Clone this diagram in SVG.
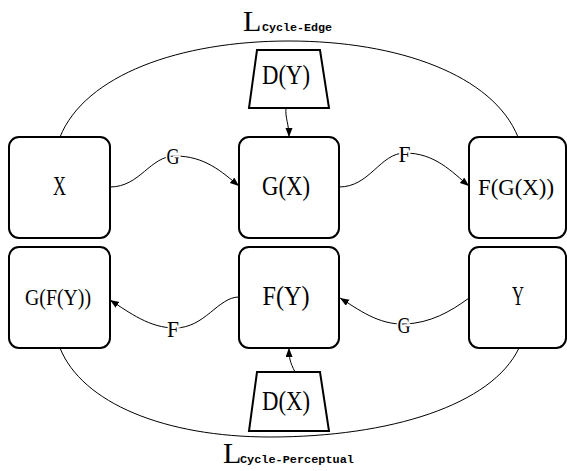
<svg xmlns="http://www.w3.org/2000/svg" width="567" height="471" viewBox="0 0 567 471">
  <style>
    .box { fill: #ffffff; stroke: #000000; stroke-width: 2; }
    .disc { fill: #ffffff; stroke: #000000; stroke-width: 2; stroke-linejoin: miter; }
    .lbl { font-family: "Liberation Serif", "DejaVu Serif", serif; fill: #000000; text-anchor: middle; }
    .big { font-size: 28px; }
    .small { font-size: 23px; }
    .edge { fill: none; stroke: #000000; stroke-width: 1; }
    .elbl { font-family: "Liberation Serif", "DejaVu Serif", serif; font-size: 24px; text-anchor: middle; fill: #000000; stroke: #ffffff; stroke-width: 4; paint-order: stroke; }
    .lossL { font-family: "Liberation Serif", "DejaVu Serif", serif; font-size: 30px; fill: #000000; }
    .lossSub { font-family: "Liberation Mono", "DejaVu Sans Mono", monospace; font-size: 11.7px; font-weight: bold; fill: #000000; }
  </style>
  <defs>
    <marker id="arrow" markerUnits="userSpaceOnUse" markerWidth="10" markerHeight="8" refX="9" refY="3.5" orient="auto">
      <path d="M0,0 L9,3.5 L0,7 z" fill="#000000"/>
    </marker>
  </defs>

  <rect width="567" height="471" fill="#ffffff"/>

  <!-- connectors -->
  <g id="connectors">
    <!-- cycle loss arcs -->
    <path class="edge" d="M60,137 C85,75 180,41 289,41 C398,41 493,75 518,137"/>
    <path class="edge" d="M60,348 C82,403 165,437 270,437 C390,437 492,405 519,348"/>
    <!-- top row -->
    <path class="edge" marker-end="url(#arrow)" d="M110,187 C140,187 150,156 175,156 C205,156 222,172 239,186"/>
    <path class="edge" marker-end="url(#arrow)" d="M339,187 C370,187 380,153 405,153 C435,153 452,172 469,186"/>
    <!-- bottom row -->
    <path class="edge" marker-end="url(#arrow)" d="M469,298 C450,312 430,323 405,324 C378,325 358,309 340,298"/>
    <path class="edge" marker-end="url(#arrow)" d="M239,297 C218,297 205,328 175,328 C150,328 130,313 110,300"/>
    <!-- discriminators -->
    <path class="edge" marker-end="url(#arrow)" d="M286,108 C285,118 289,124 289,137"/>
    <path class="edge" marker-end="url(#arrow)" d="M295,372 C290,362 289,358 289,348"/>
    <!-- edge labels -->
    <text class="elbl" x="173" y="164" textLength="13" lengthAdjust="spacingAndGlyphs">G</text>
    <text class="elbl" x="404.5" y="162" textLength="12" lengthAdjust="spacingAndGlyphs">F</text>
    <text class="elbl" x="404" y="333" textLength="13" lengthAdjust="spacingAndGlyphs">G</text>
    <text class="elbl" x="173" y="337" textLength="12" lengthAdjust="spacingAndGlyphs">F</text>
  </g>

  <!-- loss labels -->
  <g id="loss-edge">
    <text class="lossL" x="243" y="31">L</text>
    <text class="lossSub" x="262" y="31" textLength="70" lengthAdjust="spacingAndGlyphs">Cycle-Edge</text>
  </g>
  <g id="loss-perceptual">
    <text class="lossL" x="223" y="463">L</text>
    <text class="lossSub" x="240" y="463" textLength="114" lengthAdjust="spacingAndGlyphs">Cycle-Perceptual</text>
  </g>

  <!-- nodes -->
  <g id="node-x">
    <rect class="box" x="9" y="137" width="101" height="101" rx="10"/>
    <text class="lbl big" x="59.5" y="195" textLength="13" lengthAdjust="spacingAndGlyphs">X</text>
  </g>
  <g id="node-gx">
    <rect class="box" x="239" y="137" width="100" height="101" rx="10"/>
    <text class="lbl big" x="286" y="195" textLength="48" lengthAdjust="spacingAndGlyphs">G(X)</text>
  </g>
  <g id="node-fgx">
    <rect class="box" x="469" y="137" width="97" height="101" rx="10"/>
    <text class="lbl small" x="516" y="195" textLength="76" lengthAdjust="spacingAndGlyphs">F(G(X))</text>
  </g>
  <g id="node-gfy">
    <rect class="box" x="9" y="247" width="101" height="101" rx="10"/>
    <text class="lbl small" x="58" y="305" textLength="66" lengthAdjust="spacingAndGlyphs">G(F(Y))</text>
  </g>
  <g id="node-fy">
    <rect class="box" x="239" y="247" width="100" height="101" rx="10"/>
    <text class="lbl big" x="286" y="305" textLength="47" lengthAdjust="spacingAndGlyphs">F(Y)</text>
  </g>
  <g id="node-y">
    <rect class="box" x="469" y="247" width="97" height="101" rx="10"/>
    <text class="lbl big" x="518" y="305" textLength="12" lengthAdjust="spacingAndGlyphs">Y</text>
  </g>
  <g id="node-dy">
    <polygon class="disc" points="257,50 320,50 329,108 249,108"/>
    <text class="lbl big" x="286" y="84" textLength="48" lengthAdjust="spacingAndGlyphs">D(Y)</text>
  </g>
  <g id="node-dx">
    <polygon class="disc" points="257,372 320,372 329,431 249,431"/>
    <text class="lbl big" x="286" y="410" textLength="48" lengthAdjust="spacingAndGlyphs">D(X)</text>
  </g>
</svg>
